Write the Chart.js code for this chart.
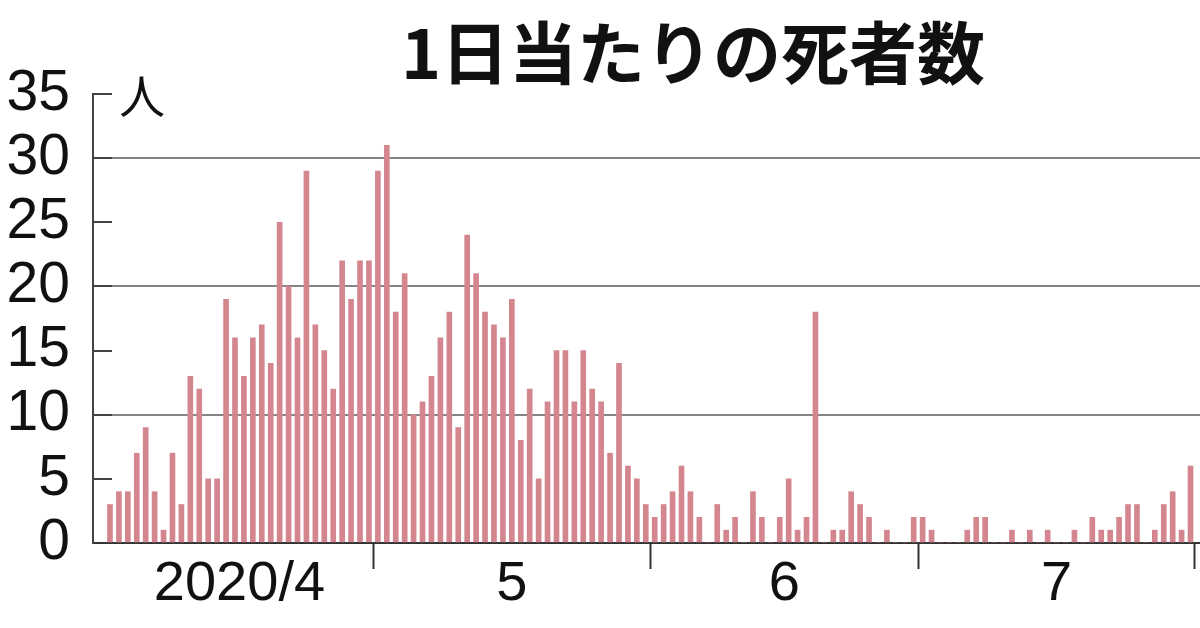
<!DOCTYPE html>
<html>
<head>
<meta charset="utf-8">
<script src="https://cdn.jsdelivr.net/npm/chart.js@4.4.1/dist/chart.umd.min.js"></script>
<style>
  html, body { margin: 0; padding: 0; background: #fff; }
</style>
</head>
<body>
<canvas id="chart" width="1200" height="628"></canvas>
<script>
const title = '1日当たりの死者数'
const unit = '人'
const months = ['2020/4', '5', '6', '7']
const monthDays = [30, 31, 30, 31]
// daily deaths, 4/1 .. 7/31
const april = [3, 4, 4, 7, 9, 4, 1, 7, 3, 13, 12, 5, 5, 19, 16, 13, 16, 17, 14, 25, 20, 16, 29, 17, 15, 12, 22, 19, 22, 22]
const may = [29, 31, 18, 21, 10, 11, 13, 16, 18, 9, 24, 21, 18, 17, 16, 19, 8, 12, 5, 11, 15, 15, 11, 15, 12, 11, 7, 14, 6, 5, 3]
const june = [2, 3, 4, 6, 4, 2, 0, 3, 1, 2, 0, 4, 2, 0, 2, 5, 1, 2, 18, 0, 1, 1, 4, 3, 2, 0, 1, 0, 0, 2]
const july = [2, 1, 0, 0, 0, 1, 2, 2, 0, 0, 1, 0, 1, 0, 1, 0, 0, 1, 0, 2, 1, 1, 2, 3, 3, 0, 1, 3, 4, 1, 6]

const deaths = [...april, ...may, ...june, ...july]

// month boundaries and middles in day index
const bounds = []
const mids = []
let start = 0
monthDays.forEach(n => {
    mids.push(start + (n - 1) / 2)
    bounds.push(start + n - 0.5)
    start += n
})

const numFont = '"Liberation Sans Narrow", "Liberation Sans", Arial, sans-serif'
const jpFont = '"Noto Sans CJK JP", sans-serif'

const textPlugin = {
    id: 'texts',
    afterDraw(chart) {
        const ctx = chart.ctx
        ctx.save()
        ctx.fillStyle = '#111'
        ctx.textAlign = 'center'
        ctx.textBaseline = 'middle'
        ctx.font = 'bold 68px ' + jpFont
        ctx.fillText(title, 693, 53)
        ctx.font = '46px ' + jpFont
        ctx.fillText(unit, 142, 96)
        ctx.restore()
    }
}

new Chart(document.getElementById('chart'), {
    type: 'bar',
    data: {
        datasets: [{
            data: deaths.map((v, i) => ({ x: i, y: v })),
            backgroundColor: '#d4868f',
            barThickness: 5
        }]
    },
    plugins: [textPlugin],
    options: {
        responsive: false,
        animation: false,
        layout: { padding: { top: 94, left: 0, right: 0, bottom: 0 } },
        plugins: {
            legend: { display: false },
            tooltip: { enabled: false }
        },
        scales: {
            x: {
                type: 'linear',
                min: -1.9,
                max: 122.06,
                offset: false,
                afterBuildTicks: s => {
                    s.ticks = [...mids, ...bounds].sort((a, b) => a - b).map(v => ({ value: v }))
                },
                afterFit: s => { s.height = 85 },
                grid: {
                    offset: false,
                    drawOnChartArea: false,
                    tickLength: 26,
                    tickWidth: 2,
                    tickColor: c => bounds.includes(c.tick.value) ? '#333' : 'rgba(0,0,0,0)'
                },
                border: { color: '#333', width: 2 },
                ticks: {
                    autoSkip: false,
                    maxRotation: 0,
                    padding: -12,
                    color: '#111',
                    font: { family: numFont, size: 56, lineHeight: 1 },
                    callback: v => {
                        const k = mids.indexOf(v)
                        return k >= 0 ? months[k] : ''
                    }
                }
            },
            y: {
                min: 0,
                max: 35,
                afterFit: s => { s.width = 93 },
                grid: {
                    tickLength: -19,
                    tickWidth: 2,
                    lineWidth: 2,
                    color: c => (c.tick.value > 0 && c.tick.value % 10 === 0) ? '#858585' : 'rgba(0,0,0,0)',
                    tickColor: '#444'
                },
                border: { color: '#444', width: 2 },
                ticks: {
                    stepSize: 5,
                    autoSkip: false,
                    padding: 42,
                    color: '#111',
                    font: { family: numFont, size: 57, lineHeight: 1 }
                }
            }
        }
    }
});
</script>
</body>
</html>
